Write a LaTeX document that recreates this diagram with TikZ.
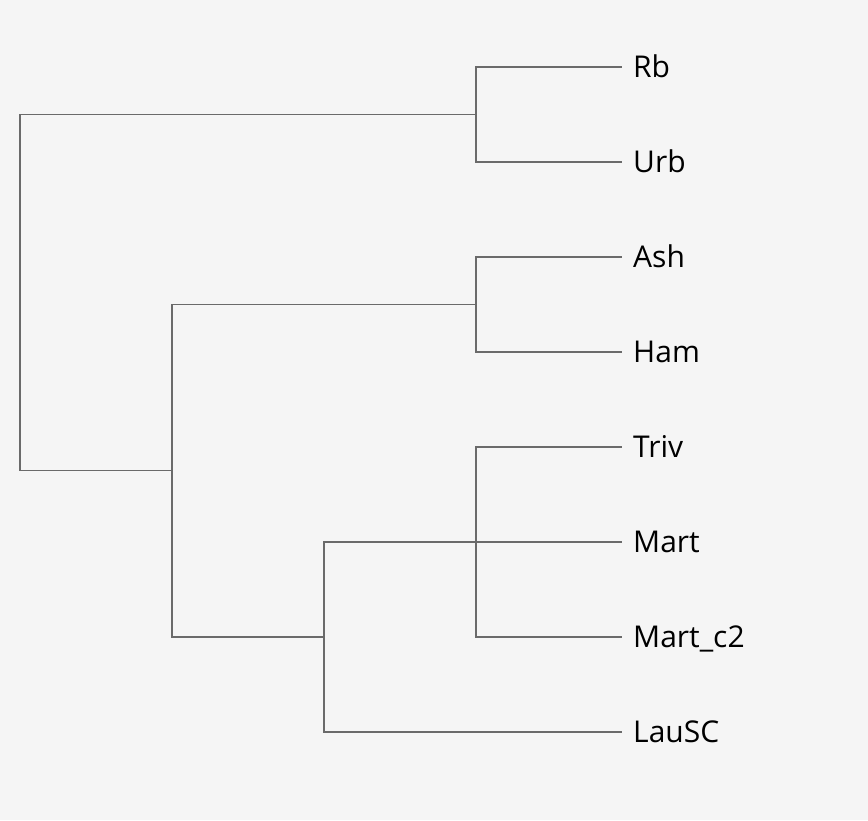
\documentclass[tikz,border=0pt]{standalone}
\usepackage{fontspec}
\setmainfont{Open Sans}
\usetikzlibrary{positioning}
\definecolor{bgpaper}{HTML}{F5F5F5}
\definecolor{branchgray}{HTML}{6A6A6A}
\tikzset{
  branch/.style={draw=branchgray, line width=1.3pt},
  leaflabel/.style={anchor=base west, inner sep=0pt, xshift=11pt, yshift=-10.8pt,
    text=black, font=\fontsize{30}{33}\selectfont}
}

\begin{document}
\begin{tikzpicture}[x=1pt,y=-1pt]
\fill[bgpaper] (0,0) rectangle (868,820);
\useasboundingbox (0,0) rectangle (868,820);

% leaves
\foreach \n/\t/\y in {rb/Rb/67, urb/Urb/162, ash/Ash/257, ham/Ham/352,
  triv/Triv/447, mart/Mart/542, martc/Mart\_c2/637, lau/LauSC/732}
{
\coordinate (\n) at (622,\y);
\node[leaflabel] (\n-lab) at (\n) {\t};
}

% internal nodes
\coordinate (rbu) at (476,114.5);
\coordinate (ashham) at (476,304.5);
\coordinate (martgrp) at (476,542);
\coordinate (lausc) at (324,637);
\coordinate (inner) at (172,470.75);
\coordinate (root) at (20,292.6);

\draw[branch] (rbu) |- (rb);
\draw[branch] (rbu) |- (urb);
\draw[branch] (ashham) |- (ash);
\draw[branch] (ashham) |- (ham);
\draw[branch] (martgrp) |- (triv);
\draw[branch] (martgrp) -- (mart);
\draw[branch] (martgrp) |- (martc);
\draw[branch] (lausc) |- (martgrp);
\draw[branch] (lausc) |- (lau);
\draw[branch] (inner) |- (ashham);
\draw[branch] (inner) |- (lausc);
\draw[branch] (root) |- (rbu);
\draw[branch] (root) |- (inner);
\end{tikzpicture}
\end{document}
